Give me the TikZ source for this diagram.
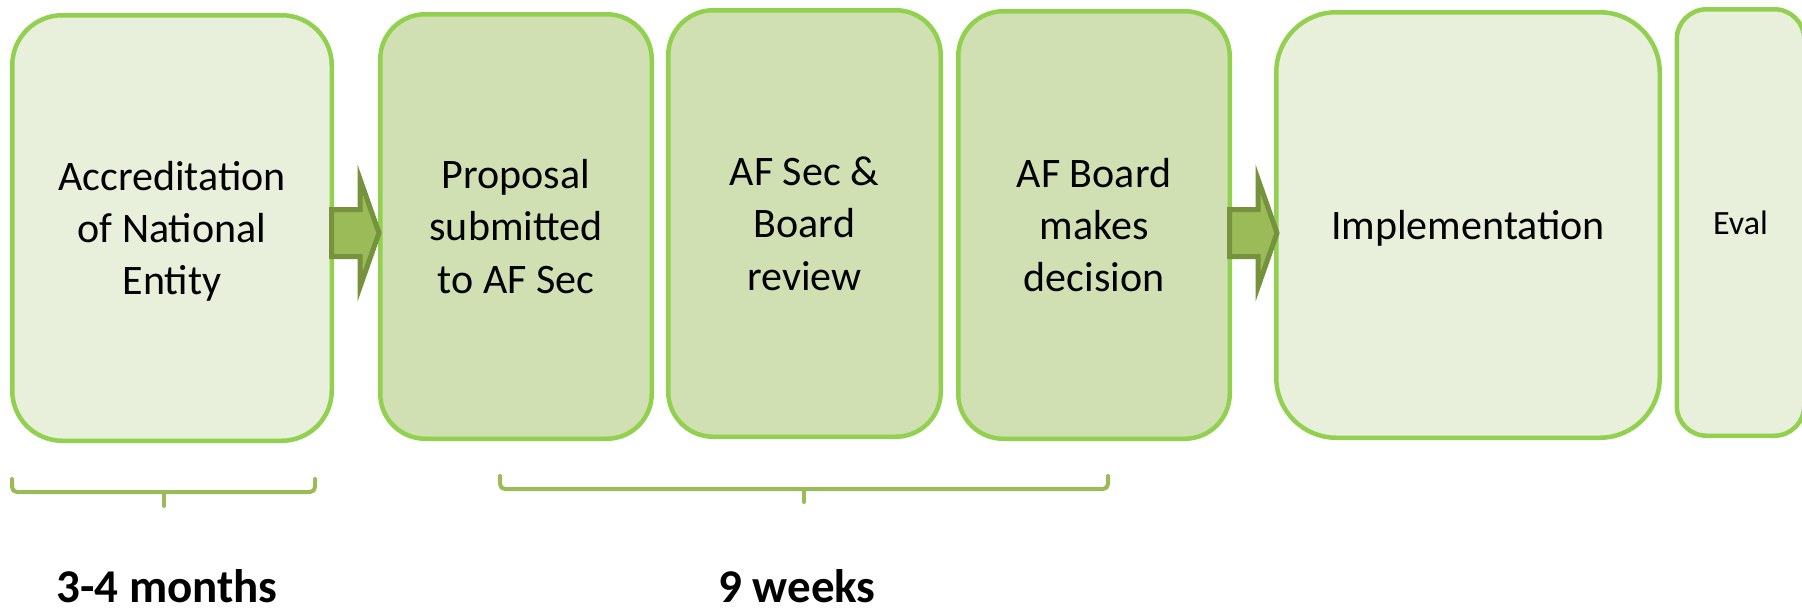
\documentclass[tikz,border=0pt]{standalone}
\usepackage{fontspec}
\setmainfont{Carlito}
\usetikzlibrary{calc}
\definecolor{boxline}{HTML}{92D050}
\definecolor{lightfill}{HTML}{E8EFDB}
\definecolor{darkfill}{HTML}{D1E0B3}
\definecolor{arrowfill}{HTML}{9BBB59}
\definecolor{arrowline}{HTML}{76923C}
\definecolor{bracecol}{HTML}{9BBB59}
\newcommand{\lstr}{\rule[-0.269em]{0pt}{1.221em}}
\tikzset{
  stepbox/.style={draw=boxline, line width=4.5pt, inner sep=0pt, align=center,
    font=\fontsize{42}{51.28}\selectfont},
  lightbox/.style={stepbox, fill=lightfill},
  darkbox/.style={stepbox, fill=darkfill},
  arrowshape/.style={fill=arrowfill, draw=arrowline, line width=5pt, line join=miter},
  bracket/.style={draw=bracecol, line width=4pt, line cap=round, rounded corners=5pt},
  period/.style={font=\fontsize{47}{56}\selectfont\bfseries, anchor=base, inner sep=0pt},
  blockarrow/.pic={\path[arrowshape] (-2.5,-23.5) -- (26,-23.5) -- (26,-54) -- (45,0)
     -- (26,54) -- (26,23.5) -- (-2.5,23.5) -- cycle;}
}
\begin{document}
\begin{tikzpicture}[x=1pt,y=-1pt]
\useasboundingbox (0,0) rectangle (1802,614);
\node[lightbox, minimum width=319.5pt, minimum height=425.5pt, rounded corners=50pt] (b1) at (172,228)
  {\lstr Accreditation\\\lstr of National\\\lstr Entity};
\node[darkbox, minimum width=271.5pt, minimum height=424.5pt, rounded corners=45pt] (b2) at (516,226.5)
  {\lstr Proposal\\\lstr submitted\\\lstr to AF Sec};
\node[darkbox, minimum width=272.5pt, minimum height=426.5pt, rounded corners=45pt] (b3) at (804.5,223.5)
  {\lstr AF Sec \&\\\lstr Board\\\lstr review};
\node[darkbox, minimum width=271.5pt, minimum height=427.5pt, rounded corners=45pt] (b4) at (1094,225)
  {\lstr AF Board\\\lstr makes\\\lstr decision};
\node[lightbox, minimum width=383.5pt, minimum height=425.5pt, rounded corners=60pt] (b5) at (1468,225)
  {\lstr Implementation};
\node[lightbox, minimum width=127.5pt, minimum height=426.5pt, rounded corners=30pt,
  font=\fontsize{34}{41.5}\selectfont] (b6) at (1740.5,222.5)
  {\lstr Eval};
\coordinate (ay) at (0,233);
\pic at (b1.east |- ay) {blockarrow};
\pic at (b4.east |- ay) {blockarrow};
% braces
\draw[bracket] (12,479) -- (12,492) -- (315,492) -- (315,479);
\draw[bracket] (164,492) -- (164,506);
\node[period] (t1) at (167,602) {3-4 months};
\draw[bracket] (500,476) -- (500,489) -- (1108,489) -- (1108,476);
\draw[bracket] (804,489) -- (804,502);
\node[period] (t2) at (797,602) {9 weeks};
\end{tikzpicture}
\end{document}
